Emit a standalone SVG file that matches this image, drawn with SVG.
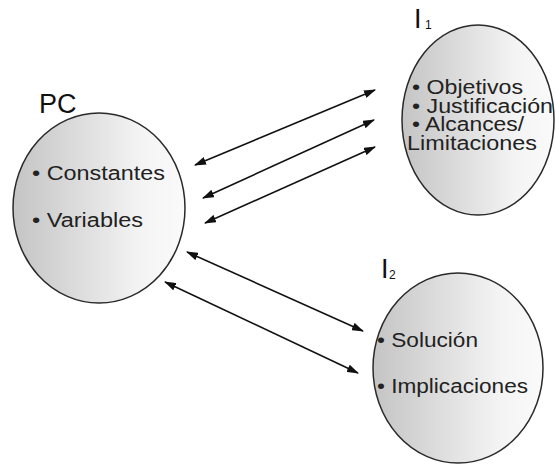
<svg xmlns="http://www.w3.org/2000/svg" width="556" height="465" viewBox="0 0 556 465">
  <defs>
    <linearGradient id="shade" x1="0" y1="0" x2="1" y2="0">
      <stop offset="0" stop-color="#c4c4c4"/>
      <stop offset="0.75" stop-color="#f4f4f4"/>
      <stop offset="1" stop-color="#fafafa"/>
    </linearGradient>
    <marker id="head" viewBox="0 0 12 8" refX="11" refY="4" markerWidth="12" markerHeight="8" markerUnits="userSpaceOnUse" orient="auto-start-reverse">
      <path d="M0,0 L12,4 L0,8 Z" fill="#111"/>
    </marker>
  </defs>
  <style>
    .bubble { fill: url(#shade); stroke: #2a2a2a; stroke-width: 1.5; }
    .txt { font-family: "Liberation Sans", Arial, sans-serif; font-size: 20px; fill: #222; }
    .lbl { font-family: "Liberation Sans", Arial, sans-serif; font-size: 27px; fill: #111; }
    .sub { font-family: "Liberation Sans", Arial, sans-serif; font-size: 12px; fill: #111; }
    .link { stroke: #111; stroke-width: 1.6; fill: none; marker-start: url(#head); marker-end: url(#head); }
  </style>
  <rect width="556" height="465" fill="#ffffff"/>

  <g id="pc">
    <ellipse class="bubble" cx="99" cy="208" rx="86" ry="95"/>
    <text class="lbl" x="39" y="113">PC</text>
    <text class="txt" x="32" y="180" textLength="133" lengthAdjust="spacingAndGlyphs">• Constantes</text>
    <text class="txt" x="32" y="227" textLength="111" lengthAdjust="spacingAndGlyphs">• Variables</text>
  </g>

  <g id="i1">
    <ellipse class="bubble" cx="478" cy="120" rx="76" ry="95"/>
    <text class="lbl" x="414" y="28" font-size="25">I</text>
    <text class="sub" x="425" y="29">1</text>
    <text class="txt" x="412" y="94" textLength="111" lengthAdjust="spacingAndGlyphs">• Objetivos</text>
    <text class="txt" x="412" y="113" textLength="141" lengthAdjust="spacingAndGlyphs">• Justificación</text>
    <text class="txt" x="412" y="131" textLength="112" lengthAdjust="spacingAndGlyphs">• Alcances/</text>
    <text class="txt" x="407" y="150" textLength="130" lengthAdjust="spacingAndGlyphs">Limitaciones</text>
  </g>

  <g id="i2">
    <ellipse class="bubble" cx="458" cy="368" rx="85" ry="95"/>
    <text class="lbl" x="381" y="278" font-size="21">I</text>
    <text class="sub" x="389" y="279" font-size="10">2</text>
    <text class="txt" x="377" y="347" textLength="101" lengthAdjust="spacingAndGlyphs">• Solución</text>
    <text class="txt" x="377" y="393" textLength="151" lengthAdjust="spacingAndGlyphs">• Implicaciones</text>
  </g>

  <g id="connectors">
    <line class="link" x1="195" y1="165" x2="375" y2="90"/>
    <line class="link" x1="203" y1="198" x2="374" y2="120"/>
    <line class="link" x1="205" y1="223" x2="375" y2="147"/>
    <line class="link" x1="187" y1="252" x2="363" y2="331"/>
    <line class="link" x1="165" y1="282" x2="358" y2="373"/>
  </g>
</svg>
